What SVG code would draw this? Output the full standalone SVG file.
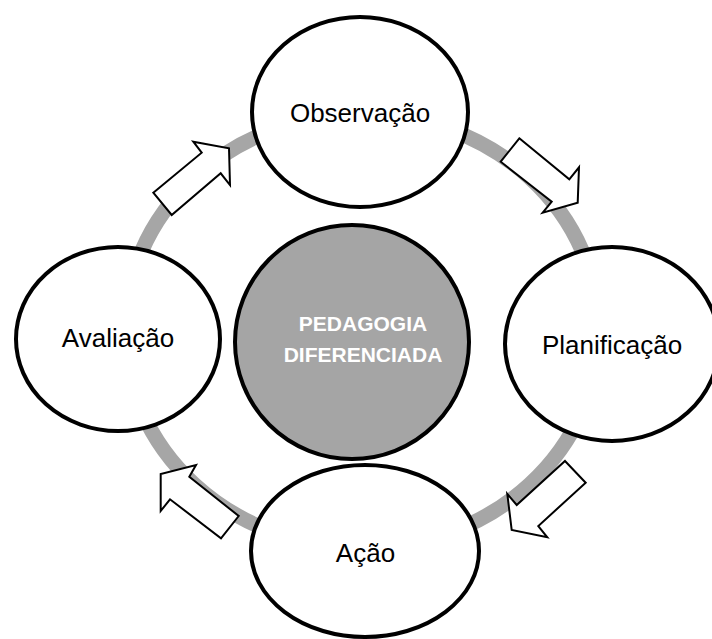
<svg xmlns="http://www.w3.org/2000/svg" width="712" height="639" viewBox="0 0 712 639">
<style>
.node{fill:#ffffff;stroke:#000000;stroke-width:4}
.center{fill:#a5a5a5;stroke:#000000;stroke-width:4}
.lbl{font-family:"Liberation Sans",Arial,sans-serif;font-size:26px;fill:#000000;text-anchor:middle}
.ctr{font-family:"Liberation Sans",Arial,sans-serif;font-size:21px;font-weight:bold;fill:#ffffff;text-anchor:middle}
.ring{fill:none;stroke:#a6a6a6;stroke-width:15}
.arrow{fill:#ffffff;stroke:#000000;stroke-width:2;stroke-linejoin:miter}
</style>
<rect width="712" height="639" fill="#ffffff"/>
<g id="ring">
<ellipse class="ring" cx="362" cy="331" rx="237" ry="217"/>
</g>
<g id="connectors">
<polygon class="arrow" points="153.3,192.7 201.7,152.7 193.3,141.7 229,148.3 230,185 220.7,173.3 171.7,215"/>
<polygon class="arrow" points="519.3,138.3 569.3,179.3 579,167.3 577.7,202.7 542.7,212.7 551.7,201.7 500.7,161.7"/>
<polygon class="arrow" points="565,461 585.7,482.7 538.3,526 547.3,537.3 511.7,530 507.3,494 516.7,505"/>
<polygon class="arrow" points="238.7,516 221,538.3 170,499.3 160.7,511 160.7,474 196,465 189.3,476.7"/>
</g>
<g id="center">
<circle class="center" cx="352" cy="342" r="117"/>
<text class="ctr" x="363" y="331">PEDAGOGIA</text>
<text class="ctr" x="363" y="362">DIFERENCIADA</text>
</g>
<g id="observacao">
<ellipse class="node" cx="360" cy="112" rx="108" ry="95"/>
<text class="lbl" x="360" y="122">Observação</text>
</g>
<g id="planificacao">
<ellipse class="node" cx="612" cy="344" rx="107" ry="97"/>
<text class="lbl" x="612" y="354">Planificação</text>
</g>
<g id="acao">
<ellipse class="node" cx="365" cy="551" rx="114" ry="86"/>
<text class="lbl" x="365.5" y="562">Ação</text>
</g>
<g id="avaliacao">
<ellipse class="node" cx="118" cy="339" rx="102" ry="92"/>
<text class="lbl" x="118" y="347">Avaliação</text>
</g>
</svg>
